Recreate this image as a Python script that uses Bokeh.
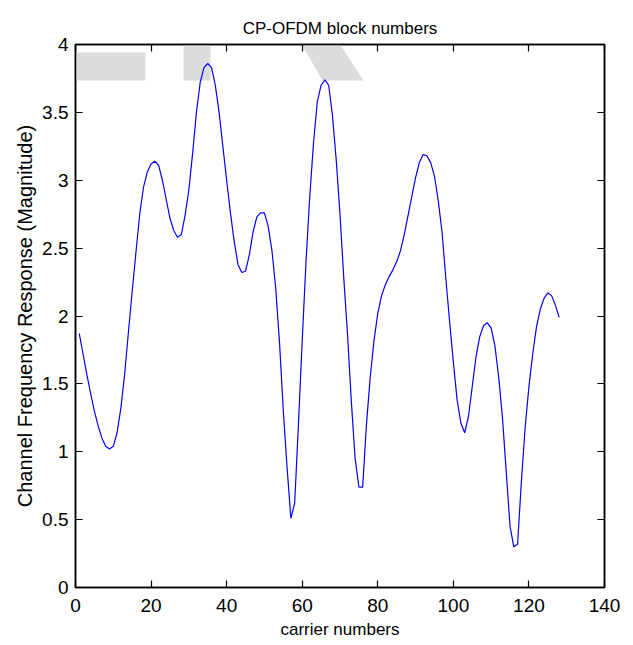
from bokeh.plotting import figure
from bokeh.models import FixedTicker, LinearAxis, Range1d, PolyAnnotation
from bokeh.embed import file_html
from bokeh.resources import INLINE

# ---------------- data ----------------
carrier = list(range(1, 129))
magnitude = [
    1.87, 1.72, 1.57, 1.43, 1.30, 1.19, 1.10, 1.04, 1.02, 1.04,
    1.14, 1.32, 1.57, 1.88, 2.18, 2.47, 2.75, 2.95, 3.06, 3.12,
    3.14, 3.11, 3.00, 2.86, 2.72, 2.63, 2.58, 2.60, 2.74, 2.93,
    3.20, 3.50, 3.72, 3.83, 3.86, 3.83, 3.70, 3.50, 3.25, 3.00,
    2.76, 2.55, 2.38, 2.32, 2.33, 2.45, 2.62, 2.73, 2.76, 2.76,
    2.66, 2.48, 2.20, 1.80, 1.30, 0.88, 0.51, 0.62, 1.20, 1.82,
    2.40, 2.88, 3.28, 3.58, 3.70, 3.74, 3.70, 3.48, 3.15, 2.75,
    2.28, 1.86, 1.37, 0.95, 0.74, 0.74, 1.20, 1.55, 1.82, 2.02,
    2.15, 2.23, 2.29, 2.34, 2.40, 2.48, 2.60, 2.74, 2.88, 3.02,
    3.13, 3.19, 3.18, 3.13, 3.03, 2.85, 2.62, 2.28, 1.96, 1.66,
    1.38, 1.21, 1.14, 1.26, 1.48, 1.70, 1.85, 1.93, 1.95, 1.91,
    1.78, 1.55, 1.25, 0.85, 0.45, 0.30, 0.32, 0.78, 1.18, 1.48,
    1.72, 1.92, 2.05, 2.13, 2.17, 2.15, 2.08, 1.99,
]
x_ticks = [0, 20, 40, 60, 80, 100, 120, 140]
y_ticks = [0, 0.5, 1, 1.5, 2, 2.5, 3, 3.5, 4]
y_tick_labels = ["0", "0.5", "1", "1.5", "2", "2.5", "3", "3.5", "4"]
title_text = "CP-OFDM block numbers"
x_label = "carrier numbers"
y_label = "Channel Frequency Response (Magnitude)"

# ---------------- style ----------------
FONT = "Liberation Sans"

p = figure(
    frame_width=529, frame_height=543,
    x_range=Range1d(0, 140), y_range=Range1d(0, 4),
    output_backend="svg", toolbar_location=None,
    min_border_left=75, min_border_right=22,
    min_border_top=44, min_border_bottom=56,
    background_fill_color="white", border_fill_color="white",
)
p.xgrid.visible = False
p.ygrid.visible = False
p.outline_line_color = "black"
p.outline_line_width = 1.5

# faint watermark behind the plot (decoration, screen units from frame bottom-left)
wm_color = "#dcdcdc"
wm_shapes = [
    ([-75, -58, -58, -75], [587, 587, 507, 507]),
    ([-75, 70, 70, -75], [535, 535, 507, 507]),
    ([108, 135, 135, 108], [587, 587, 507, 507]),
    ([201, 236, 288, 247], [587, 587, 507, 507]),
]
for xs, ys in wm_shapes:
    p.add_layout(PolyAnnotation(xs=xs, ys=ys, xs_units="screen", ys_units="screen",
                                fill_color=wm_color, fill_alpha=1.0,
                                line_color=None, level="underlay"))

p.line(carrier, magnitude, line_color="#0000ff", line_width=1.2)

p.add_layout(LinearAxis(), "above")
p.add_layout(LinearAxis(), "right")

for ax in p.xaxis:
    ax.ticker = FixedTicker(ticks=x_ticks)
for ax in p.yaxis:
    ax.ticker = FixedTicker(ticks=y_ticks)
    ax.major_label_overrides = {float(v): s for v, s in zip(y_ticks, y_tick_labels)}

for ax in p.axis:
    ax.axis_line_color = "black"
    ax.axis_line_width = 1.5
    ax.major_tick_line_color = "black"
    ax.major_tick_line_width = 1.2
    ax.major_tick_in = 7
    ax.major_tick_out = 0
    ax.minor_tick_line_color = None
    ax.major_label_text_font = FONT
    ax.major_label_text_font_size = "19px"
    ax.major_label_text_color = "black"

# box axes: ticks only, no labels
for ax in (p.above[0], p.right[0]):
    ax.major_label_text_font_size = "1px"
    ax.major_label_text_color = None
    ax.major_label_standoff = 0

bx = p.below[0]
bx.axis_label = x_label
bx.axis_label_text_font = FONT
bx.axis_label_text_font_size = "17px"
bx.axis_label_text_font_style = "normal"
bx.axis_label_text_color = "black"
bx.major_label_standoff = 11
bx.axis_label_standoff = 5

ly = p.left[0]
ly.axis_label = y_label
ly.axis_label_text_font = FONT
ly.axis_label_text_font_size = "20px"
ly.axis_label_text_font_style = "normal"
ly.axis_label_text_color = "black"
ly.major_label_standoff = 7
ly.axis_label_standoff = 3

p.title.text = title_text
p.title.align = "center"
p.title.vertical_align = "top"
p.title.text_font = FONT
p.title.text_font_size = "17px"
p.title.text_font_style = "normal"
p.title.text_color = "black"
p.title.standoff = 10

open("out.html", "w").write(file_html(p, INLINE))
